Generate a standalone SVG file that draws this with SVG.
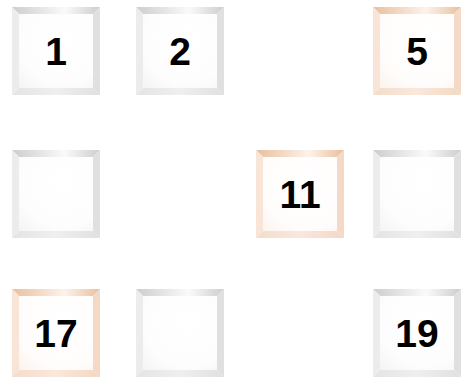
<svg xmlns="http://www.w3.org/2000/svg" width="461" height="379" viewBox="0 0 461 379">
  <defs>
    <linearGradient id="gTopG" x1="0" y1="0" x2="1" y2="0">
      <stop offset="0" stop-color="#cdcdcd"/>
      <stop offset="0.6" stop-color="#fafafa"/>
      <stop offset="1" stop-color="#cdcdcd"/>
    </linearGradient>
    <linearGradient id="gBotG" x1="0" y1="0" x2="1" y2="0">
      <stop offset="0" stop-color="#e4e4e4"/>
      <stop offset="0.5" stop-color="#efefef"/>
      <stop offset="1" stop-color="#e0e0e0"/>
    </linearGradient>
    <linearGradient id="gTopO" x1="0" y1="0" x2="1" y2="0">
      <stop offset="0" stop-color="#e9bf9e"/>
      <stop offset="0.6" stop-color="#fdf2ea"/>
      <stop offset="1" stop-color="#e9bf9e"/>
    </linearGradient>
    <linearGradient id="gBotO" x1="0" y1="0" x2="1" y2="0">
      <stop offset="0" stop-color="#f4dccb"/>
      <stop offset="0.5" stop-color="#f9e8dc"/>
      <stop offset="1" stop-color="#f2d8c5"/>
    </linearGradient>
    <radialGradient id="gFaceG" cx="0.6" cy="0.35" r="0.85">
      <stop offset="0" stop-color="#ffffff"/>
      <stop offset="0.7" stop-color="#fdfdfd"/>
      <stop offset="1" stop-color="#f5f5f5"/>
    </radialGradient>
    <radialGradient id="gFaceO" cx="0.6" cy="0.35" r="0.85">
      <stop offset="0" stop-color="#ffffff"/>
      <stop offset="0.7" stop-color="#fffdfc"/>
      <stop offset="1" stop-color="#fcf4ee"/>
    </radialGradient>
    <g id="tileG">
      <rect x="7" y="7" width="74" height="74" fill="url(#gFaceG)"/>
      <polygon points="0,0 88,0 81,7 7,7" fill="url(#gTopG)"/>
      <polygon points="0,0 7,7 7,81 0,88" fill="#ececec"/>
      <polygon points="88,0 88,88 81,81 81,7" fill="#e0e0e0"/>
      <polygon points="0,88 7,81 81,81 88,88" fill="url(#gBotG)"/>
    </g>
    <g id="tileO">
      <rect x="7" y="7" width="74" height="74" fill="url(#gFaceO)"/>
      <polygon points="0,0 88,0 81,7 7,7" fill="url(#gTopO)"/>
      <polygon points="0,0 7,7 7,81 0,88" fill="#f8e5d7"/>
      <polygon points="88,0 88,88 81,81 81,7" fill="#f3d9c6"/>
      <polygon points="0,88 7,81 81,81 88,88" fill="url(#gBotO)"/>
    </g>
  </defs>
  <style>
    .num { font-family: "Liberation Sans", Arial, sans-serif; font-weight: bold; font-size: 39px; fill: #000; text-anchor: middle; }
  </style>
  <g id="connectors"/>
  <g id="n1" transform="translate(12,7)"><use href="#tileG"/><text class="num" x="44" y="58">1</text></g>
  <g id="n2" transform="translate(136,7)"><use href="#tileG"/><text class="num" x="44" y="58">2</text></g>
  <g id="n5" transform="translate(373,7)"><use href="#tileO"/><text class="num" x="44" y="58">5</text></g>
  <g id="n7" transform="translate(12,150)"><use href="#tileG"/></g>
  <g id="n11" transform="translate(256,150)"><use href="#tileO"/><text class="num" x="44" y="58">11</text></g>
  <g id="n12" transform="translate(373,150)"><use href="#tileG"/></g>
  <g id="n17" transform="translate(12,289)"><use href="#tileO"/><text class="num" x="44" y="58">17</text></g>
  <g id="n18" transform="translate(136,289)"><use href="#tileG"/></g>
  <g id="n19" transform="translate(373,289)"><use href="#tileG"/><text class="num" x="44" y="58">19</text></g>
</svg>
